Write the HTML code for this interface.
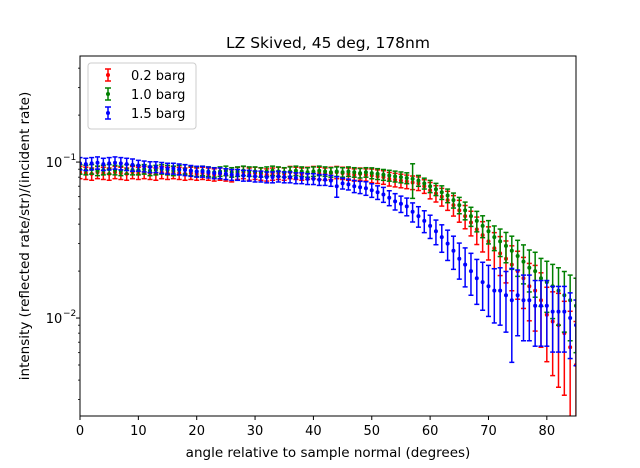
<!DOCTYPE html>
<html><head><meta charset="utf-8"><style>html,body{margin:0;padding:0;background:#fff;overflow:hidden;width:640px;height:468px}svg{display:block;font-family:"DejaVu Sans","Liberation Sans",sans-serif}</style></head>
<body>
<svg id="chart" width="640" height="468" viewBox="0 0 640 468" xmlns="http://www.w3.org/2000/svg">
<rect width="640" height="468" fill="#fff"/>
<defs><clipPath id="clip"><rect x="80" y="56" width="496" height="360"/></clipPath></defs>
<g id="marks" clip-path="url(#clip)"></g>
<g id="axes"></g>
<text x="328" y="48" font-size="15.5" text-anchor="middle">LZ Skived, 45 deg, 178nm</text>
<text x="328" y="457" font-size="13.5" text-anchor="middle">angle relative to sample normal (degrees)</text>
<text transform="translate(29,236) rotate(-90)" font-size="13.5" text-anchor="middle">intensity (reflected rate/str)/(incident rate)</text>
</svg>
<script>
const xs=[];for(let i=0;i<86;i++)xs.push(i);
const seriesNames=["0.2 barg","1.0 barg","1.5 barg"];
const seriesColors=["#ff0000","#008000","#0000ff"];
const red=[.086,.085,.084,.086,.085,.084,.086,.085,.084,.086,.085,.086,.085,.084,.086,.085,.086,.085,.084,.085,.084,.085,.084,.083,.084,.083,.082,.085,.086,.084,.085,.084,.083,.084,.085,.084,.086,.085,.084,.085,.086,.085,.084,.085,.086,.085,.084,.083,.084,.083,.082,.081,.080,.078,.077,.076,.075,.074,.073,.070,.066,.063,.060,.057,.053,.049,.045,.041,.037,.034,.031,.028,.026,.024,.022,.020,.018,.016,.015,.013,.0105,.0095,.009,.008,.0065,.005];
const green=[.090,.089,.090,.088,.089,.090,.089,.088,.090,.089,.089,.090,.088,.089,.090,.089,.088,.089,.090,.088,.087,.088,.087,.086,.087,.088,.086,.087,.088,.087,.087,.086,.087,.088,.087,.086,.087,.088,.087,.086,.087,.088,.087,.086,.087,.086,.087,.086,.085,.086,.085,.084,.083,.082,.081,.080,.079,.078,.076,.073,.070,.067,.064,.061,.057,.053,.049,.045,.042,.039,.036,.033,.031,.029,.027,.025,.023,.021,.020,.018,.017,.016,.015,.014,.013,.012];
const blue=[.098,.097,.098,.099,.097,.098,.099,.098,.097,.096,.095,.094,.093,.093,.092,.091,.091,.090,.089,.088,.087,.087,.086,.085,.085,.084,.083,.083,.082,.082,.081,.081,.080,.080,.081,.080,.080,.079,.079,.078,.078,.077,.077,.076,.070,.073,.072,.070,.069,.068,.066,.064,.062,.059,.056,.054,.052,.048,.045,.042,.039,.036,.033,.030,.027,.024,.022,.020,.018,.017,.016,.015,.015,.014,.013,.014,.013,.013,.012,.012,.012,.011,.011,.011,.010,.009];
const redErr=[.09,.09,.09,.09,.09,.09,.09,.09,.09,.09,.09,.09,.09,.09,.09,.09,.09,.09,.09,.09,.09,.09,.09,.09,.09,.09,.09,.09,.09,.09,.09,.09,.09,.09,.09,.09,.09,.09,.09,.09,.09,.09,.09,.09,.09,.09,.09,.09,.09,.09,.1,.1,.1,.1,.1,.1,.1,.1,.1,.1,.12,.12,.13,.14,.15,.16,.17,.18,.2,.22,.24,.26,.28,.3,.32,.34,.36,.4,.45,.5,.5,.55,.6,.6,.7,.9];
const greenErr=[.07,.07,.07,.07,.07,.07,.07,.07,.07,.07,.07,.07,.07,.07,.07,.07,.07,.07,.07,.07,.07,.07,.07,.07,.07,.07,.07,.07,.07,.07,.07,.07,.07,.07,.07,.07,.07,.07,.07,.07,.07,.07,.07,.07,.07,.07,.07,.07,.07,.07,.08,.08,.08,.08,.08,.08,.08,.25,.08,.08,.09,.09,.1,.1,.11,.12,.13,.14,.15,.16,.17,.18,.2,.22,.24,.26,.28,.3,.32,.34,.36,.38,.4,.42,.45,.5];
const blueErr=[.09,.09,.09,.09,.09,.09,.09,.09,.09,.09,.08,.08,.08,.08,.08,.08,.08,.08,.08,.08,.08,.08,.08,.08,.08,.08,.08,.08,.08,.08,.08,.08,.08,.08,.08,.08,.08,.08,.08,.08,.08,.08,.08,.08,.15,.08,.08,.09,.09,.1,.1,.1,.11,.11,.12,.12,.13,.14,.15,.16,.17,.18,.2,.22,.24,.26,.28,.3,.32,.34,.36,.38,.4,.42,.6,.45,.45,.45,.45,.45,.45,.45,.45,.45,.45,.45];
const xTicks=[0,10,20,30,40,50,60,70,80];
const yTickLabels=["10","10"];const yTickExps=[-1,-2];
const NS="http://www.w3.org/2000/svg";
const X0=80,X1=576,Y0=56,Y1=416,XMIN=0,XMAX=85,LMAX=-0.32,LMIN=-2.628;
function xs_(v){return X0+(v-XMIN)/(XMAX-XMIN)*(X1-X0);}
function ys_(v){const l=Math.log10(Math.max(v,1e-6));return Y0+(LMAX-l)/(LMAX-LMIN)*(Y1-Y0);}
function mk(t,a,p){const e=document.createElementNS(NS,t);for(const k in a)e.setAttribute(k,a[k]);p.appendChild(e);return e;}
const marks=document.getElementById('marks'),axes=document.getElementById('axes');
const allV=[red,green,blue],allE=[redErr,greenErr,blueErr];
for(let s=0;s<3;s++){
 const g=mk('g',{},marks);
 
 
 const c=seriesColors[s];
 for(let i=0;i<xs.length;i++){
  const v=allV[s][i],e=v*allE[s][i],x=xs_(xs[i]);
  const yt=ys_(v+e),yb=ys_(Math.max(v-e,1e-6)),y=ys_(v);
  mk('line',{x1:x,x2:x,y1:yt,y2:yb,stroke:c,'stroke-width':1.5},g);
  mk('line',{x1:x-2.5,x2:x+2.5,y1:yt,y2:yt,stroke:c,'stroke-width':1.5},g);
  mk('line',{x1:x-2.5,x2:x+2.5,y1:yb,y2:yb,stroke:c,'stroke-width':1.5},g);
  const p=mk('circle',{cx:x,cy:y,r:2,fill:c},g);
  
  
 }
}
const frame=mk('rect',{x:X0,y:Y0,width:X1-X0,height:Y1-Y0,fill:'none',stroke:'#000','stroke-width':1},axes);


xTicks.forEach(t=>{const x=xs_(t);mk('line',{x1:x,x2:x,y1:Y1,y2:Y1+4,stroke:'#000'},axes);
 const tx=mk('text',{x:x,y:Y1+19,'font-size':13,'text-anchor':'middle'},axes);tx.textContent=t;
 
 });
yTickExps.forEach((ex,i)=>{const y=ys_(Math.pow(10,ex));mk('line',{x1:X0-4,x2:X0,y1:y,y2:y,stroke:'#000'},axes);
 const tx=mk('text',{x:X0-26,y:y+5,'font-size':13,'text-anchor':'middle'},axes);tx.textContent=yTickLabels[i];
 
 
 const sp=mk('text',{x:X0-17,y:y-2,'font-size':9},axes);sp.textContent='\u2212'+(-ex);});
for(let d=-3;d<=-1;d++)for(let m=2;m<10;m++){const v=m*Math.pow(10,d),y=ys_(v);if(y>Y0&&y<Y1)mk('line',{x1:X0-2,x2:X0,y1:y,y2:y,stroke:'#000','stroke-width':0.8},axes);}
const lg=mk('g',{},axes);


mk('rect',{x:88,y:63,width:108,height:66,rx:3,fill:'#fff',stroke:'#ccc'},lg);
seriesNames.forEach((n,i)=>{const y=75+i*19,c=seriesColors[i];
 mk('line',{x1:108,x2:108,y1:y-6,y2:y+6,stroke:c,'stroke-width':1.5},lg);
 mk('line',{x1:105,x2:111,y1:y-6,y2:y-6,stroke:c,'stroke-width':1.5},lg);
 mk('line',{x1:105,x2:111,y1:y+6,y2:y+6,stroke:c,'stroke-width':1.5},lg);
 mk('circle',{cx:108,cy:y,r:2,fill:c},lg);
 const t=mk('text',{x:131,y:y+5,'font-size':13},lg);t.textContent=n;
 
 });
</script>
</body></html>
